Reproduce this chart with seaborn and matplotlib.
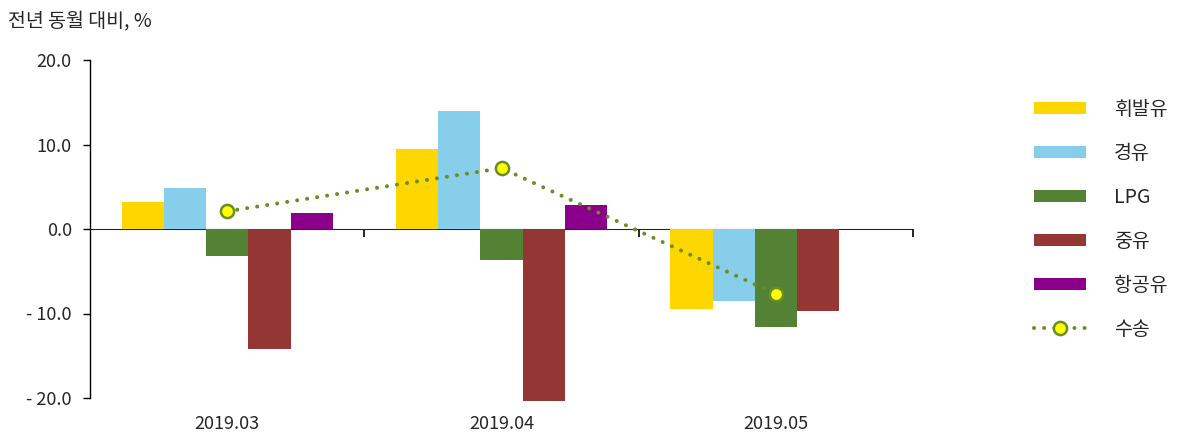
import numpy as np
import pandas as pd
import seaborn as sns
import matplotlib.pyplot as plt
from matplotlib.patches import Patch
from matplotlib.lines import Line2D

months = ['2019.03', '2019.04', '2019.05']
fuels = ['휘발유', '경유', 'LPG', '중유', '항공유']
gasoline = [3.2, 9.5, -9.5]
diesel = [4.85, 14.0, -8.5]
lpg = [-3.2, -3.7, -11.6]
heavy_oil = [-14.2, -20.3, -9.7]
jet_fuel = [1.9, 2.8, np.nan]
transport = [2.1, 7.2, -7.7]
yticks = [-20, -10, 0, 10, 20]
yticklabels = ['- 20.0', '- 10.0', '0.0', '10.0', '20.0']

colors = ['#FFD700', '#87CEEB', '#548235', '#943634', '#8B008B']
line_color = '#6B8E23'

rows = []
for f, vals in zip(fuels, [gasoline, diesel, lpg, heavy_oil, jet_fuel]):
    for m, v in zip(months, vals):
        rows.append({'month': m, 'fuel': f, 'value': v})
df = pd.DataFrame(rows)

sns.set_style('white')
plt.rcParams['font.family'] = ['Noto Sans CJK KR', 'DejaVu Sans']
plt.rcParams['font.size'] = 13

fig = plt.figure(figsize=(12, 4.4), dpi=100)
ax = fig.add_axes([0.075, 0.0955, 0.686, 0.768])

sns.barplot(data=df, x='month', y='value', hue='fuel', hue_order=fuels,
            palette=colors, width=0.77, gap=0, linewidth=0, saturation=1,
            legend=False, ax=ax)
for p in ax.patches:
    p.set_clip_on(False)

ax.plot(np.arange(len(months)), transport, color=line_color, lw=2.9,
        linestyle=(0, (0.01, 2.5)), dash_capstyle='round', zorder=5)
ax.plot(np.arange(len(months)), transport, linestyle='none', marker='o',
        markersize=9.5, markerfacecolor='#FFFF00', markeredgecolor=line_color,
        markeredgewidth=1.8, zorder=6)

ax.set_ylim(-20, 20)
ax.set_xlim(-0.5, 2.5)
ax.set_yticks(yticks)
ax.set_yticklabels(yticklabels)
ax.set_xlabel('')
ax.set_ylabel('')

for s in ['top', 'right', 'bottom']:
    ax.spines[s].set_visible(False)
ax.spines['left'].set_color('black')
ax.spines['left'].set_linewidth(1.0)
ax.tick_params(axis='y', direction='out', length=5, width=1.0, color='black',
               pad=8, labelsize=13, left=True)
ax.tick_params(axis='x', length=0, pad=12, labelsize=13)

# zero line with category boundary ticks
sec = ax.secondary_xaxis(0.5)
sec.set_xticks([0.5, 1.5, 2.5])
sec.set_xticklabels([])
sec.spines['bottom'].set_color('black')
sec.spines['bottom'].set_linewidth(1.2)
sec.tick_params(axis='x', direction='in', length=6, width=1.2, color='black')

fig.text(0.007, 0.95, '전년 동월 대비, %', fontsize=14, va='center', ha='left')

handles = [Patch(facecolor=c, edgecolor='none') for c in colors]
handles.append(Line2D([0], [0], color=line_color, lw=2.9, linestyle=(0, (0.01, 2.5)),
                      dash_capstyle='round', marker='o', markersize=9.5,
                      markerfacecolor='#FFFF00', markeredgecolor=line_color,
                      markeredgewidth=1.8))
leg = fig.legend(handles, fuels + ['수송'], loc='upper left',
                 bbox_to_anchor=(0.847, 0.815), frameon=False, fontsize=14,
                 handlelength=2.7, handleheight=0.62, handletextpad=1.4,
                 labelspacing=1.18)

fig.savefig('out.png', dpi=100)
